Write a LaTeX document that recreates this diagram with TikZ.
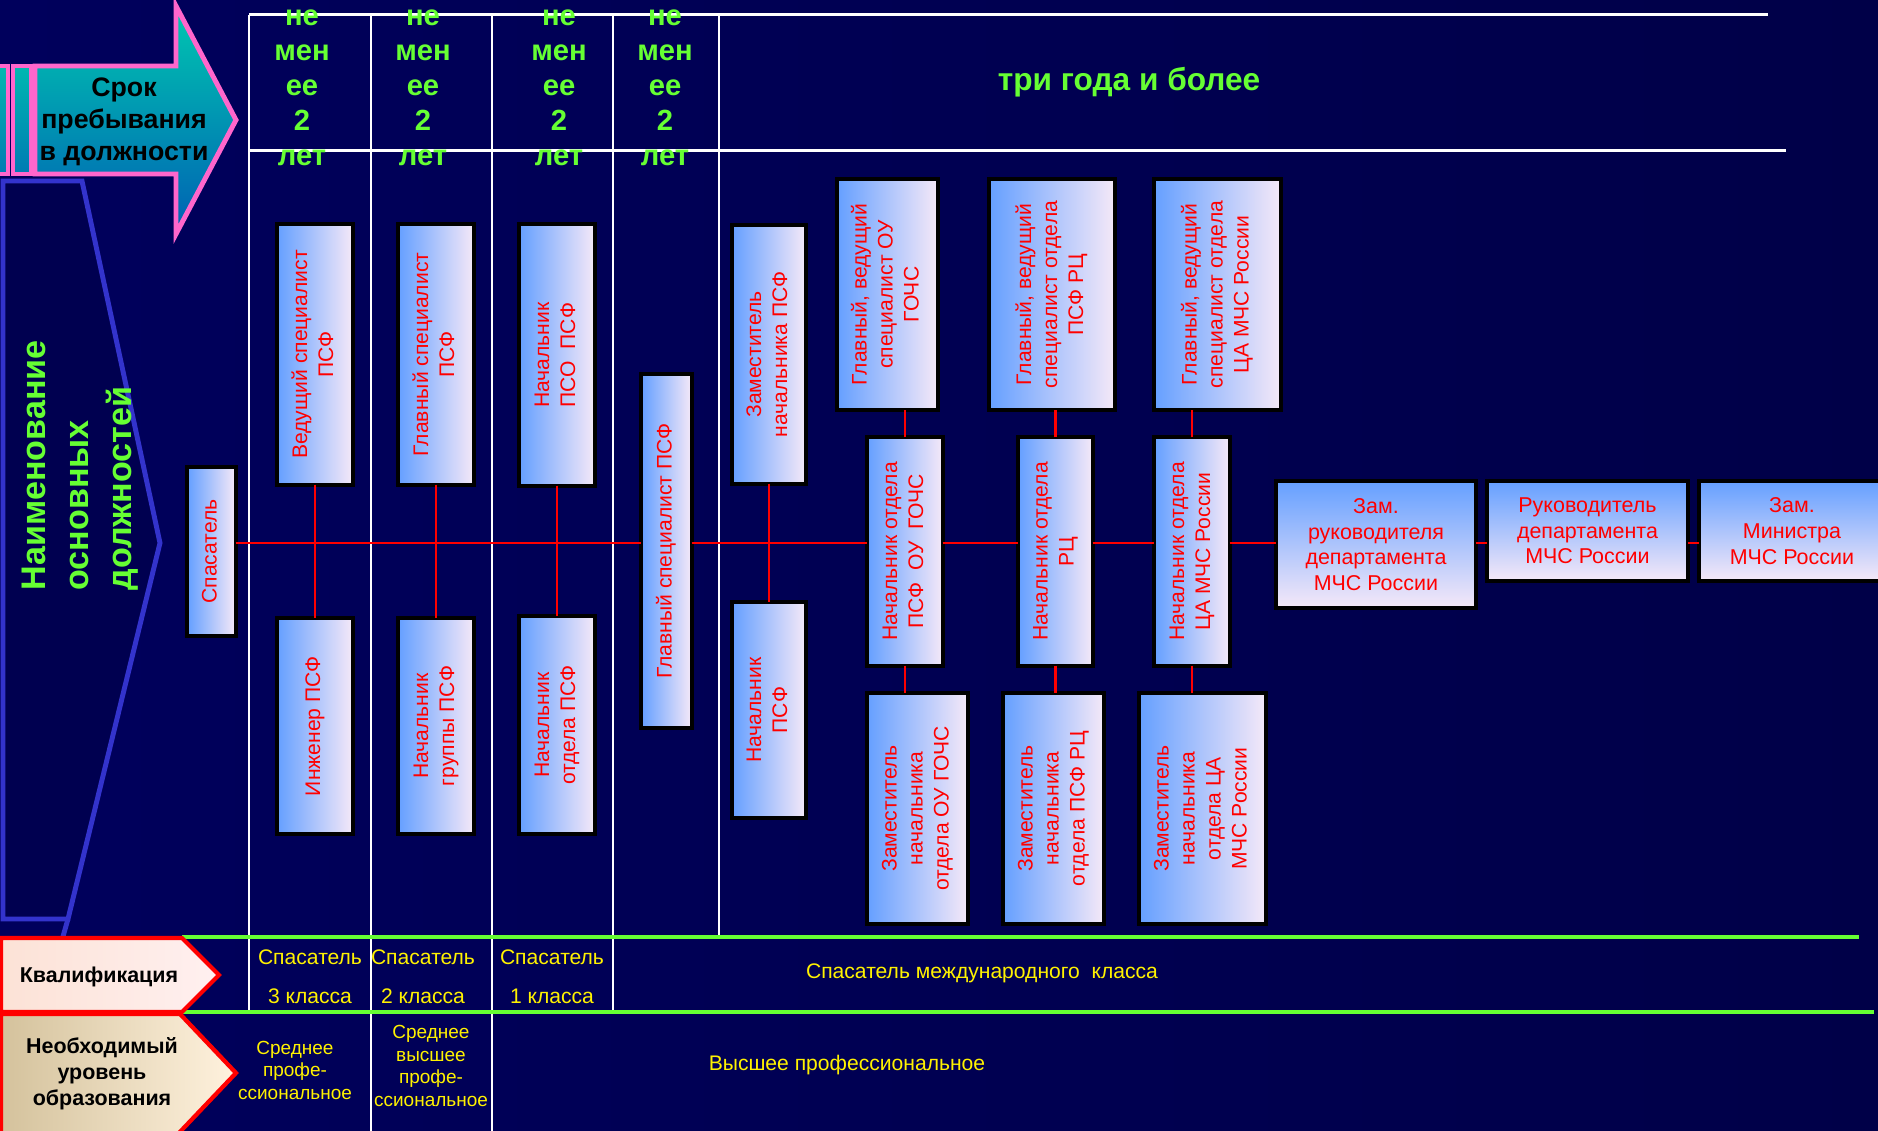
\documentclass[tikz,border=0pt]{standalone}
\usepackage{fontspec}
\setmainfont{Liberation Sans}
\usepackage{graphicx}
\definecolor{bgl}{RGB}{0,0,92}
\definecolor{bgm}{RGB}{0,0,128}
\definecolor{bgr}{RGB}{0,0,72}
\definecolor{hgreen}{RGB}{102,255,51}
\definecolor{pinkl}{RGB}{255,102,204}
\definecolor{arrtop}{RGB}{0,200,176}
\definecolor{arrbot}{RGB}{0,96,180}
\definecolor{penta}{RGB}{51,51,204}
\definecolor{pentafill}{RGB}{0,0,80}
\definecolor{postblue}{RGB}{102,160,255}
\definecolor{postwhite}{RGB}{244,232,248}
\definecolor{rim}{RGB}{0,0,0}
\definecolor{qleft}{RGB}{252,226,214}
\definecolor{qright}{RGB}{255,240,240}
\definecolor{eleft}{RGB}{212,194,156}
\definecolor{eright}{RGB}{255,242,222}
\newcommand{\vlabel}[1]{\rotatebox{90}{\begin{tabular}{@{}c@{}}#1\end{tabular}}}
\begin{document}
\begin{tikzpicture}[x=0.01cm, y=-0.01cm,
    postbox/.style={left color=postblue, right color=postwhite,
      text=red, inner sep=0pt, font=\fontsize{6}{7.4}\selectfont},
    widebox/.style={top color=postblue, bottom color=postwhite,
      text=red, inner sep=0pt, align=center, font=\fontsize{6.1}{7.3}\selectfont},
    boxrim/.style={draw=rim, line width=1.1pt},
    redlink/.style={draw=red, line width=0.6pt},
    gridline/.style={draw=white, line width=0.6pt},
    greenline/.style={draw=hgreen, line width=1.2pt},
    headtxt/.style={text=hgreen, align=center, font=\bfseries\fontsize{8.3}{9.96}\selectfont},
    tagtxt/.style={text=black, align=center, font=\bfseries\fontsize{6.1}{7.4}\selectfont},
    qualtxt/.style={text=yellow, align=center, font=\fontsize{6}{11.1}\selectfont},
    edutxt/.style={text=yellow, align=center, font=\fontsize{5.4}{6.4}\selectfont}]
  \useasboundingbox (0,0) rectangle (1878,1131);
  \clip (0,0) rectangle (1878,1131);
  \shade[left color=bgl, middle color=bgm, right color=bgr] (0,0) rectangle (1878,1131);

  \draw[gridline, line width=0.85pt] (249,15) -- (1768,15);
  \draw[gridline, line width=0.85pt] (249,151) -- (1786,151);
  \foreach \x/\y in {249/1012, 371/1131, 492/1131, 613/1012, 719/935}
    \draw[gridline] (\x,15) -- (\x,\y);

  \foreach \x [count=\i] in {302,423,559,665}
    \node[headtxt] (h\i) at (\x,88) {не\\мен\\ее\\2\\лет};
  \node[headtxt, font=\bfseries\fontsize{9}{10}\selectfont] (years) at (1129,82) {три года и более};

  \foreach \a/\b in {-10/8, 13/31}
    \draw[pinkl, line width=1.4pt, top color=arrtop!85!arrbot, bottom color=arrtop!25!arrbot] (\a,66) rectangle (\b,174);
  \draw[pinkl, line width=1.4pt, top color=arrtop, bottom color=arrbot]
    (35,66) -- (176,66) -- (176,6) -- (236,120) -- (176,234) -- (176,174) -- (35,174) -- cycle;
  \node[tagtxt, font=\bfseries\fontsize{7.6}{9.1}\selectfont] (term) at (124,122) {Срок\\пребывания\\в должности};

  \draw[penta, line width=1.4pt, fill=pentafill]
    (3,181) -- (82,181) -- (160,543) -- (68,919) -- (3,919) -- cycle;
  \draw[penta, line width=1.4pt] (68,919) -- (62,940);
  \node[anchor=south, text=hgreen, font=\bfseries\fontsize{9.7}{12.2}\selectfont] (names) at (80,603)
    {\rotatebox{90}{\begin{tabular}{@{}l@{}}Наименование\\основных\\должностей\end{tabular}}};

  \draw[greenline] (182,937) -- (1859,937);
  \draw[greenline] (180,1012) -- (1874,1012);
  \draw[red, line width=1.2pt, left color=qleft, right color=qright]
    (1,938) -- (182,938) -- (219,975) -- (182,1012) -- (1,1012) -- cycle;
  \node[tagtxt] (qual) at (99,977) {Квалификация};
  \draw[red, line width=1.2pt, left color=eleft, right color=eright]
    (1,1014) -- (180,1014) -- (236,1073) -- (178,1134) -- (1,1134) -- cycle;
  \node[tagtxt] (educ) at (102,1074) {Необходимый\\уровень\\образования};

  \node[qualtxt] (q1) at (310,977) {Спасатель\\3 класса};
  \node[qualtxt] (q2) at (423,977) {Спасатель\\2 класса};
  \node[qualtxt] (q3) at (552,977) {Спасатель\\1 класса};
  \node[qualtxt] (q4) at (982,973) {Спасатель международного\ \ класса};
  \node[edutxt] (e1) at (295,1070) {Среднее\\профе-\\ссиональное};
  \node[edutxt] (e2) at (431,1066) {Среднее\\высшее\\профе-\\ссиональное};
  \node[qualtxt] (e3) at (847,1065) {Высшее профессиональное};

  \foreach \n/\x/\y/\w/\h/\txt in {
      spas/211.5/551.5/47/167/Спасатель,
      ved/315/354.5/74/259/Ведущий специалист\\ПСФ,
      ing/315/726/74/214/Инженер ПСФ,
      glav1/436/354.5/74/259/Главный специалист\\ПСФ,
      ngr/436/726/74/214/Начальник\\группы ПСФ,
      npso/557/355/74/260/Начальник\\ПСО\ \ ПСФ,
      notd/557/725/74/216/Начальник\\отдела ПСФ,
      glav2/666.5/551/49/352/Главный специалист ПСФ,
      zampsf/769/354.5/72/257/Заместитель\\начальника ПСФ,
      npsf/769/710/72/214/Начальник\\ПСФ,
      gvgochs/887.5/294.5/99/229/Главный{,} ведущий\\специалист ОУ\\ГОЧС,
      nogochs/905/551.5/74/227/Начальник отдела\\ПСФ\ \ ОУ\ \ ГОЧС,
      zamgochs/917.5/808.5/99/229/Заместитель\\начальника\\отдела ОУ ГОЧС,
      gvrc/1052/294.5/124/229/Главный{,} ведущий\\специалист отдела\\ПСФ РЦ,
      norc/1055.5/551.5/73/227/Начальник отдела\\РЦ,
      zamrc/1053.5/808.5/99/229/Заместитель\\начальника\\отдела ПСФ РЦ,
      gvca/1217.5/294.5/125/229/Главный{,} ведущий\\специалист отдела\\ЦА МЧС России,
      noca/1192/551.5/74/227/Начальник отдела\\ЦА МЧС России,
      zamca/1202.5/808.5/125/229/Заместитель\\начальника\\отдела ЦА\\МЧС России}
  {
    \node[postbox, minimum width=\w*0.01cm, minimum height=\h*0.01cm] (\n) at (\x,\y) {\vlabel{\txt}};
    \draw[boxrim] (\n.south west) rectangle (\n.north east);
  }

  \node[widebox, minimum width=1.98cm, minimum height=1.25cm] (zamruk) at (1376,544.5)
    {Зам.\\руководителя\\департамента\\МЧС России};
  \node[widebox, minimum width=1.99cm, minimum height=0.98cm] (ruk) at (1587.5,531)
    {Руководитель\\департамента\\МЧС России};
  \node[widebox, minimum width=1.84cm, minimum height=0.98cm] (zammin) at (1792,531)
    {Зам.\\Министра\\МЧС России};
  \foreach \n in {zamruk, ruk, zammin}
    \draw[boxrim] (\n.south west) rectangle (\n.north east);

  \coordinate (axis) at (0,543);
  \foreach \a/\b in {spas/glav2, glav2/nogochs, nogochs/norc, norc/noca, noca/zamruk, zamruk/ruk, ruk/zammin}
    \draw[redlink] (\a.east |- axis) -- (\b.west |- axis);
  \foreach \a/\b in {ved/ing, glav1/ngr, npso/notd, zampsf/npsf}
    \draw[redlink] (\a) -- (\b);
  \foreach \t/\m/\b in {gvgochs/nogochs/zamgochs, gvrc/norc/zamrc, gvca/noca/zamca}{
    \draw[redlink] (\m.north) -- (\m.north |- \t.south);
    \draw[redlink] (\m.south) -- (\m.south |- \b.north);
  }
\end{tikzpicture}
\end{document}
